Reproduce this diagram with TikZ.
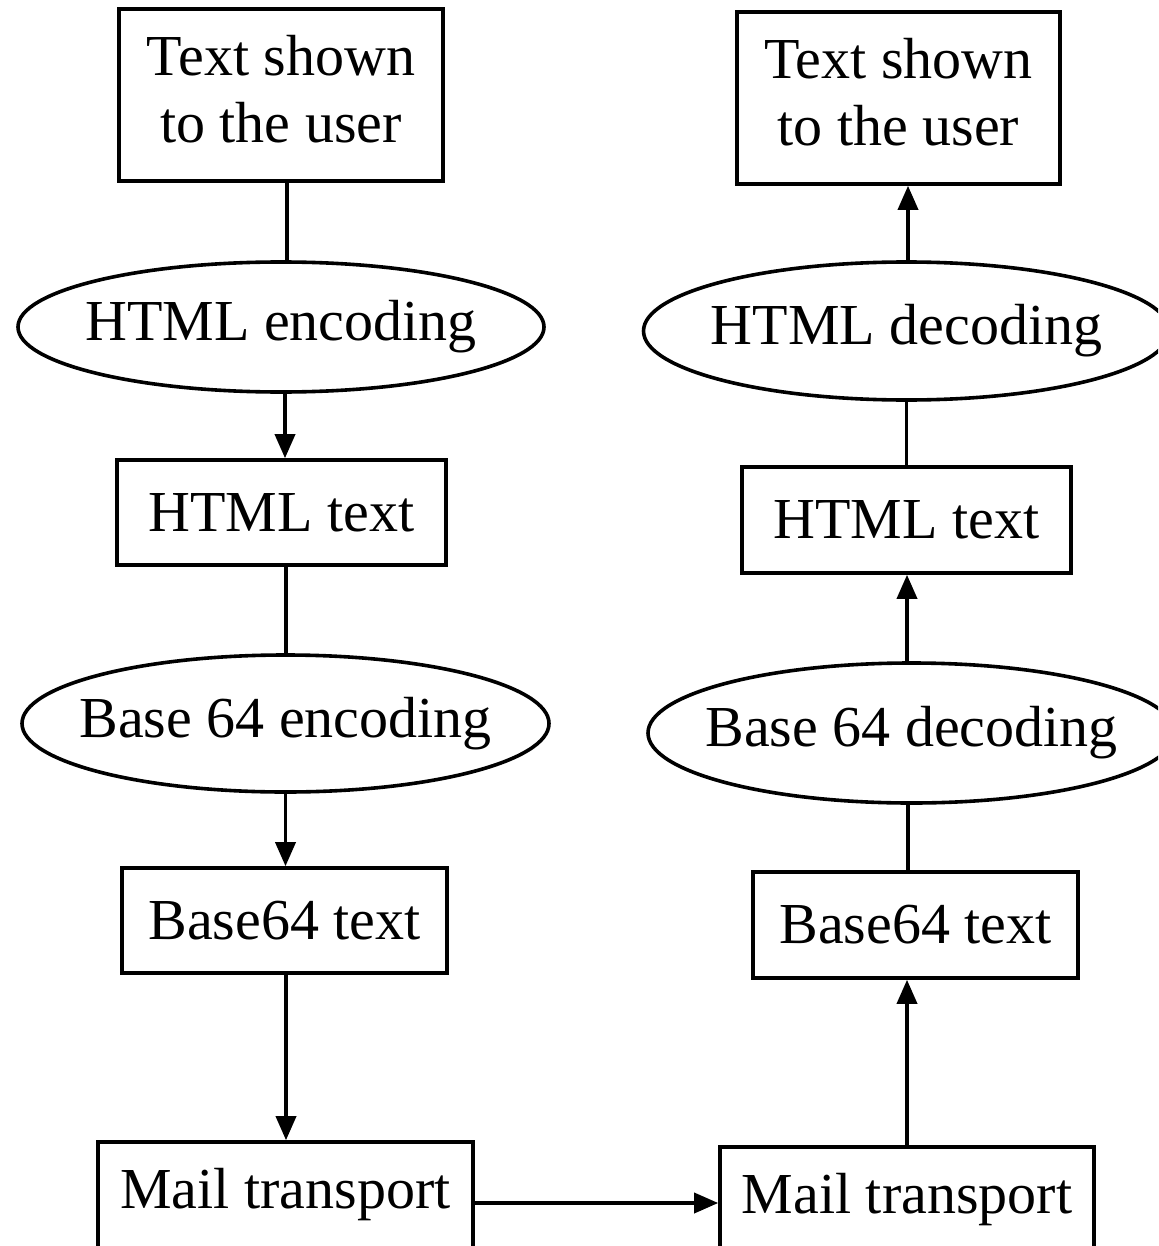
\documentclass[tikz,border=0pt]{standalone}
\usepackage{fontspec}
\setmainfont{Liberation Serif}
\usetikzlibrary{arrows.meta,shapes.geometric}

\tikzset{
  labelfont/.style={font=\fontsize{58}{67}\selectfont},
  boxnode/.style={draw, line width=3.6pt, rectangle, inner sep=0pt, align=center, labelfont},
  userbox/.style={draw, line width=3.6pt, rectangle, inner sep=0pt,
    label={[labelfont, align=center, inner sep=0pt, yshift=6pt]center:#1}},
  ellnode/.style={draw, line width=3.6pt, ellipse, inner sep=0pt,
    label={[labelfont, inner sep=0pt]center:#1}},
  link/.style={line width=3.6pt},
  flow/.style={line width=3.6pt, -{Triangle[length=24pt,width=20pt]}},
}

\begin{document}
\begin{tikzpicture}[x=1pt,y=-1pt]
  \clip (0,0) rectangle (1158,1246);
  \useasboundingbox (0,0) rectangle (1158,1246);

  % sending side
  \node[userbox={Text shown\\to the user}, minimum width=324pt, minimum height=172pt] (sUser) at (281,95) {};
  \node[ellnode={HTML encoding}, minimum width=526pt, minimum height=130pt] (sHtmlEnc) at (281,327) {};
  \node[boxnode, minimum width=329pt, minimum height=105pt] (sHtml) at (281.5,512.5) {HTML text};
  \node[ellnode={Base 64 encoding}, minimum width=527pt, minimum height=137pt] (sB64Enc) at (285.5,723.5) {};
  \node[boxnode, minimum width=325pt, minimum height=105pt] (sB64) at (284.5,920.5) {Base64 text};
  \node[boxnode, minimum width=375pt, minimum height=106pt] (sMail) at (285.5,1195) {Mail transport};

  % receiving side
  \node[userbox={Text shown\\to the user}, minimum width=323pt, minimum height=172pt] (rUser) at (898.5,98) {};
  \node[ellnode={HTML decoding}, minimum width=526pt, minimum height=138pt] (rHtmlDec) at (906.5,331) {};
  \node[boxnode, minimum width=329pt, minimum height=106pt] (rHtml) at (906.5,520) {HTML text};
  \node[ellnode={Base 64 decoding}, minimum width=527pt, minimum height=140pt] (rB64Dec) at (911.5,733) {};
  \node[boxnode, minimum width=325pt, minimum height=106pt] (rB64) at (915.5,925) {Base64 text};
  \node[boxnode, minimum width=374pt, minimum height=106pt] (rMail) at (907,1200) {Mail transport};

  % connectors, sending side
  \draw[link] ([xshift=6pt]sUser.south) -- ([xshift=6pt]sUser.south |- sHtmlEnc.north);
  \draw[flow] ([xshift=4pt]sHtmlEnc.south) -- ([xshift=4pt]sHtmlEnc.south |- sHtml.north);
  \draw[link] ([xshift=4.5pt]sHtml.south) -- ([xshift=4.5pt]sHtml.south |- sB64Enc.north);
  \draw[flow] (sB64Enc.south) -- (sB64Enc.south |- sB64.north);
  \draw[flow] ([xshift=1.5pt]sB64.south) -- ([xshift=1.5pt]sB64.south |- sMail.north);

  % mail transfer
  \draw[flow] (sMail.east |- 0,1203) -- (rMail.west |- 0,1203);

  % connectors, receiving side
  \draw[flow] (rMail.north) -- (rMail.north |- rB64.south);
  \draw[link] ([xshift=-7.5pt]rB64.north) -- ([xshift=-7.5pt]rB64.north |- rB64Dec.south);
  \draw[flow] ([xshift=-4.5pt]rB64Dec.north) -- ([xshift=-4.5pt]rB64Dec.north |- rHtml.south);
  \draw[link] (rHtml.north) -- (rHtml.north |- rHtmlDec.south);
  \draw[flow] ([xshift=1.5pt]rHtmlDec.north) -- ([xshift=1.5pt]rHtmlDec.north |- rUser.south);
\end{tikzpicture}
\end{document}
